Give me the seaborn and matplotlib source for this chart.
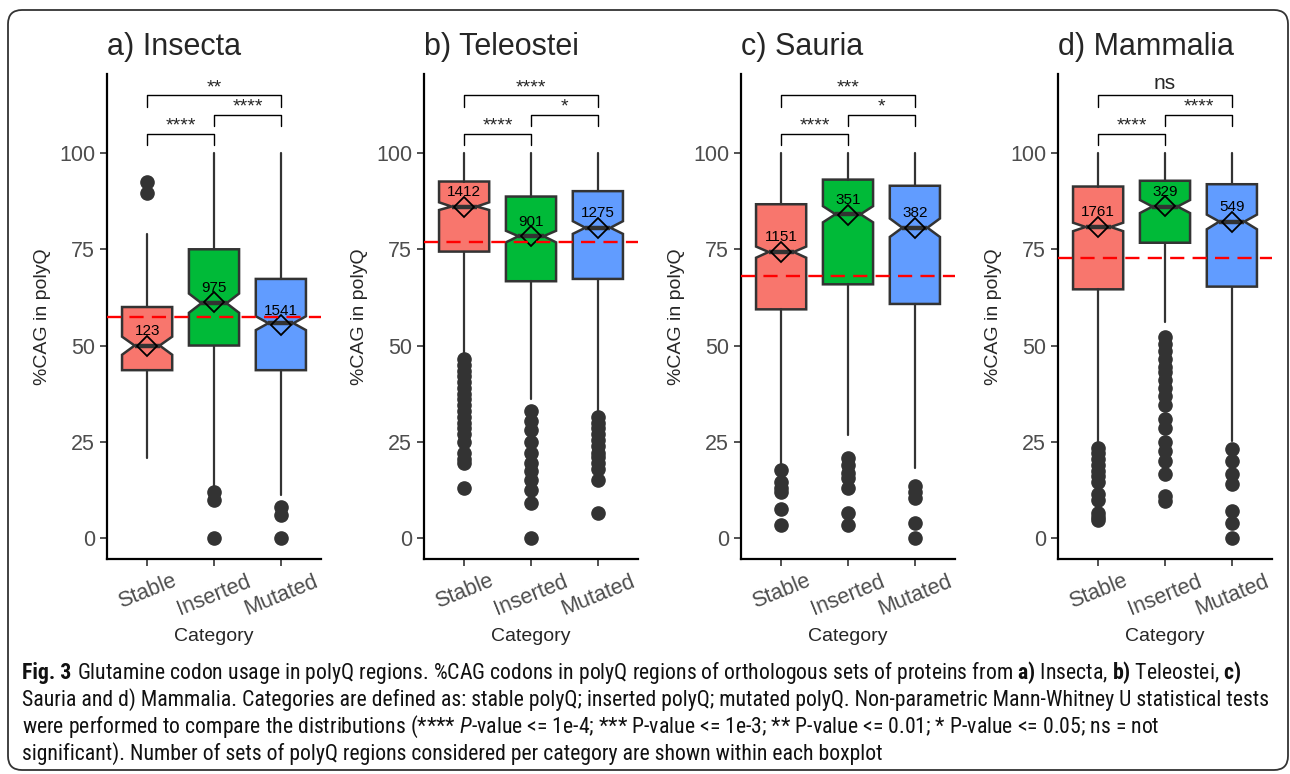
import numpy as np
import seaborn as sns
from matplotlib import pyplot as plt
from matplotlib import font_manager
from matplotlib.patches import FancyBboxPatch
from matplotlib.transforms import IdentityTransform

clades = ['a) Insecta', 'b) Teleostei', 'c) Sauria', 'd) Mammalia']
categories = ['Stable', 'Inserted', 'Mutated']
box_colors = ['#F8766D', '#00BA38', '#619CFF']

# box statistics per clade, order Stable / Inserted / Mutated
q1 = [[43.6, 50.0, 43.6], [74.4, 66.7, 67.3], [59.4, 65.9, 60.8], [64.6, 76.7, 65.3]]
medians = [[50.0, 61.0, 55.8], [86.1, 78.4, 80.6], [74.3, 84.1, 80.6], [80.8, 86.1, 82.2]]
q3 = [[60.0, 75.0, 67.3], [92.6, 88.7, 90.1], [86.7, 93.1, 91.5], [91.3, 92.8, 91.9]]
notch_lo = [[47.6, 58.5, 54.0], [85.2, 76.8, 79.0], [72.8, 82.0, 78.2], [79.7, 84.4, 80.2]]
notch_hi = [[52.3, 63.5, 57.6], [87.2, 79.8, 82.3], [75.7, 86.2, 83.0], [81.9, 87.8, 84.0]]
whisker_lo = [[20.9, 13.5, 11.1], [48.0, 36.0, 32.7], [19.0, 26.7, 18.3], [24.5, 56.1, 25.3]]
whisker_hi = [[79.0, 100, 100], [100, 100, 100], [100, 100, 100], [100, 100, 100]]
means = [[50.0, 61.2, 55.3], [86.0, 78.4, 80.6], [74.3, 84.0, 80.6], [80.8, 86.2, 82.2]]
counts = [[123, 975, 1541], [1412, 901, 1275], [1151, 351, 382], [1761, 329, 549]]
outliers = [
    [[92.5, 89.5], [12.0, 10.0, 0.0], [8.0, 6.0, 0.0]],
    [[46.5, 45, 43.5, 42, 40.5, 39, 37.5, 36, 34.5, 33, 31.5, 30, 28.5, 27, 25, 22, 20.5, 19.5, 13],
     [33, 30.5, 28, 25, 22, 19.5, 17.5, 15, 12.5, 9, 0],
     [31.5, 30, 28.5, 27, 25.5, 24, 22, 21, 19.5, 18, 15, 6.5]],
    [[17.6, 14.5, 13, 12, 7.5, 3.3], [20.7, 19, 17, 15.5, 13, 6.5, 3.3], [13.5, 12, 10.5, 3.8, 0]],
    [[23.5, 22, 20.5, 19, 17.5, 16, 14.5, 11.5, 10, 6.5, 5.5, 4.8],
     [52.3, 50.5, 48.5, 46.5, 44.5, 43, 41, 39, 37, 34.5, 31, 28.5, 25, 22.5, 20, 16.5, 11, 9.5],
     [23, 20, 16.5, 14, 7, 3.8, 0]],
]
overall_mean = [57.5, 77.0, 68.1, 72.8]
# Mann-Whitney labels for Stable-Inserted, Inserted-Mutated, Stable-Mutated
sig_labels = [['****', '****', '**'], ['****', '*', '****'], ['****', '*', '***'], ['****', '****', 'ns']]
bracket_pairs = [(0, 1), (1, 2), (0, 2)]

caption_head = "Fig. 3"
caption = [
    r"Glutamine codon usage in polyQ regions. %CAG codons in polyQ regions of orthologous sets of proteins from $\mathbf{a)}$ Insecta, $\mathbf{b)}$ Teleostei, $\mathbf{c)}$",
    "Sauria and d) Mammalia. Categories are defined as: stable polyQ; inserted polyQ; mutated polyQ. Non-parametric Mann-Whitney U statistical tests",
    r"were performed to compare the distributions (**** $\mathit{P}$-value <= 1e-4; *** P-value <= 1e-3; ** P-value <= 0.01; * P-value <= 0.05; ns = not",
    "significant). Number of sets of polyQ regions considered per category are shown within each boxplot",
]


def first_font(names):
    for name in names:
        try:
            font_manager.findfont(font_manager.FontProperties(family=name), fallback_to_default=False)
            return name
        except ValueError:
            pass
    return 'DejaVu Sans'


sns.set_theme(style='ticks')
plt.rcParams['font.family'] = ['Liberation Sans', 'DejaVu Sans']
cap_font = first_font(['Liberation Sans Narrow', 'Roboto Condensed', 'Open Sans Condensed', 'Liberation Sans'])
plt.rcParams['mathtext.fontset'] = 'custom'
plt.rcParams['mathtext.rm'] = cap_font
plt.rcParams['mathtext.bf'] = cap_font + ':bold'
plt.rcParams['mathtext.it'] = cap_font + ':italic'

W, H = 1290, 774
fig = plt.figure(figsize=(W / 100, H / 100), dpi=100)
lefts = [107, 424, 741, 1058]
pos = np.arange(len(categories))

for i, clade in enumerate(clades):
    ax = fig.add_axes([lefts[i] / W, 1 - 559 / H, 214 / W, 484.5 / H])
    stats = []
    for j, cat in enumerate(categories):
        stats.append(dict(label=cat, q1=q1[i][j], med=medians[i][j], q3=q3[i][j],
                          cilo=notch_lo[i][j], cihi=notch_hi[i][j],
                          whislo=whisker_lo[i][j], whishi=whisker_hi[i][j],
                          fliers=outliers[i][j]))
    bp = ax.bxp(stats, positions=pos, widths=0.75, shownotches=True, patch_artist=True, showcaps=False,
                boxprops=dict(edgecolor='#333333', linewidth=1.8),
                whiskerprops=dict(color='#333333', linewidth=1.6),
                medianprops=dict(color='#333333', linewidth=3.2),
                flierprops=dict(marker='o', markerfacecolor='#333333', markeredgecolor='#333333',
                                markersize=9.5))
    for patch, c in zip(bp['boxes'], box_colors):
        patch.set_facecolor(c)

    ax.plot(pos, means[i], linestyle='none', marker='D', markersize=10, markerfacecolor='none',
            markeredgecolor='black', markeredgewidth=1.3, zorder=5)
    for p, m, n in zip(pos, means[i], counts[i]):
        ax.annotate(str(n), (p, m), xytext=(0, 10.5), textcoords='offset points',
                    ha='center', va='center', fontsize=11, color='black', zorder=6)

    ax.axhline(overall_mean[i], color='red', linestyle=(0, (6, 3.5)), linewidth=1.7, zorder=7)

    for (a, b), lab, y in zip(bracket_pairs, sig_labels[i], [105, 110, 115]):
        ax.plot([a, a, b, b], [y - 3, y, y, y - 3], color='black', linewidth=1)
        if lab == 'ns':
            ax.text((a + b) / 2, y + 0.5, lab, ha='center', va='bottom', fontsize=15)
        else:
            ax.text((a + b) / 2, y - 0.3, lab, ha='center', va='bottom', fontsize=14)

    ax.set_xlim(-0.6, 2.6)
    ax.set_ylim(-5.45, 120.4)
    ax.set_yticks([0, 25, 50, 75, 100])
    ax.set_xticks(pos, categories, rotation=22, ha='center')
    ax.tick_params(labelsize=15.5, labelcolor='#4D4D4D', length=5, width=1.2, color='#333333')
    sns.despine(ax=ax)
    for s in ['left', 'bottom']:
        ax.spines[s].set_linewidth(1.6)
        ax.spines[s].set_color('black')
    ax.set_title(clade, loc='left', fontsize=22, pad=14)
    ax.set_xlabel('Category', fontsize=14, labelpad=6)
    ax.set_ylabel('%CAG in polyQ', fontsize=14, labelpad=6)

# outer frame of the figure panel
frame = FancyBboxPatch((8, 4), 1280, 760, boxstyle='round,pad=0,rounding_size=14',
                       transform=IdentityTransform(), fill=False, edgecolor='#333333', linewidth=1.3)
fig.add_artist(frame)

# caption, font size fitted so the second line spans the frame width
renderer = fig.canvas.get_renderer()
probe = fig.text(0, 0, caption[1], fontsize=14, family=cap_font)
cap_size = 14 * 1253 / probe.get_window_extent(renderer).width
probe.remove()

head = fig.text(22 / W, 1 - 673 / H, caption_head, fontsize=cap_size, family=cap_font,
                weight='bold', ha='left', va='center', color='#111111')
head_w = head.get_window_extent(renderer).width + cap_size * 0.25 * 100 / 72
for k, line in enumerate(caption):
    x0 = 22 + (head_w if k == 0 else 0)
    fig.text(x0 / W, 1 - (673 + 27 * k) / H, line, fontsize=cap_size, family=cap_font,
             ha='left', va='center', color='#111111')

fig.savefig('out.png', dpi=100)
